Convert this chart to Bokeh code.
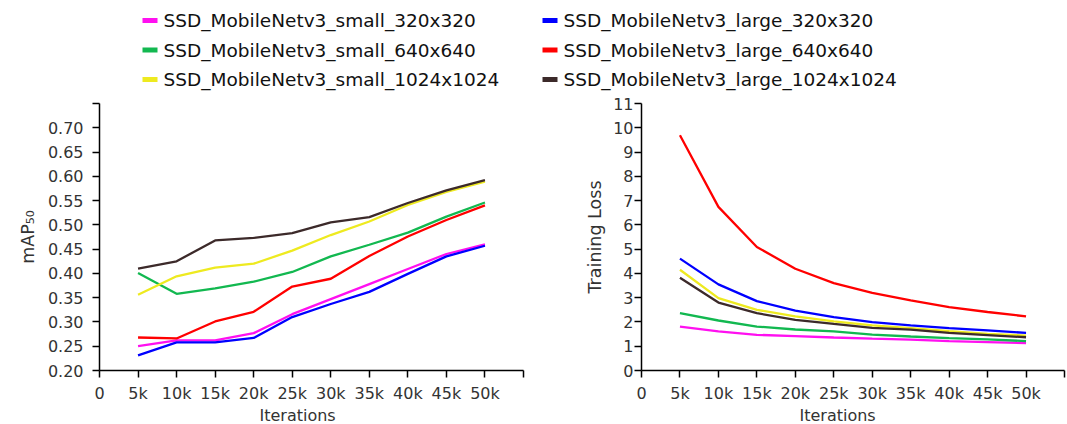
from bokeh.embed import file_html
from bokeh.layouts import column, row
from bokeh.models import ColumnDataSource, FixedTicker, Range1d, Title
from bokeh.plotting import figure
from bokeh.resources import INLINE

# ---- data -------------------------------------------------------------
iterations = [5000, 10000, 15000, 20000, 25000, 30000, 35000, 40000, 45000, 50000]

series_names = [
    "SSD_MobileNetv3_small_320x320",
    "SSD_MobileNetv3_small_640x640",
    "SSD_MobileNetv3_small_1024x1024",
    "SSD_MobileNetv3_large_320x320",
    "SSD_MobileNetv3_large_640x640",
    "SSD_MobileNetv3_large_1024x1024",
]
series_colors = ["#FF10F0", "#12B850", "#EEEA20", "#0000FF", "#FF0000", "#3C2A2A"]

# mAP@50 per checkpoint
map_small_320 = [0.250, 0.262, 0.262, 0.277, 0.316, 0.347, 0.378, 0.409, 0.440, 0.460]
map_small_640 = [0.401, 0.358, 0.369, 0.383, 0.403, 0.435, 0.459, 0.484, 0.517, 0.546]
map_small_1024 = [0.356, 0.394, 0.412, 0.420, 0.447, 0.479, 0.507, 0.541, 0.568, 0.589]
map_large_320 = [0.231, 0.258, 0.258, 0.267, 0.310, 0.337, 0.362, 0.399, 0.435, 0.457]
map_large_640 = [0.268, 0.266, 0.301, 0.321, 0.373, 0.389, 0.436, 0.476, 0.510, 0.540]
map_large_1024 = [0.410, 0.425, 0.468, 0.473, 0.483, 0.505, 0.516, 0.545, 0.571, 0.592]

# training loss per checkpoint
loss_small_320 = [1.81, 1.61, 1.47, 1.42, 1.36, 1.31, 1.27, 1.21, 1.17, 1.13]
loss_small_640 = [2.36, 2.06, 1.81, 1.69, 1.61, 1.48, 1.40, 1.33, 1.28, 1.21]
loss_small_1024 = [4.15, 2.98, 2.50, 2.23, 2.02, 1.86, 1.75, 1.62, 1.51, 1.44]
loss_large_320 = [4.61, 3.55, 2.86, 2.47, 2.20, 1.99, 1.86, 1.75, 1.65, 1.55]
loss_large_640 = [9.69, 6.74, 5.09, 4.19, 3.60, 3.20, 2.89, 2.61, 2.41, 2.23]
loss_large_1024 = [3.82, 2.80, 2.36, 2.09, 1.92, 1.76, 1.68, 1.55, 1.46, 1.37]

x_ticks = [0, 5000, 10000, 15000, 20000, 25000, 30000, 35000, 40000, 45000, 50000, 55000]
x_tick_labels = ["0", "5k", "10k", "15k", "20k", "25k", "30k", "35k", "40k", "45k", "50k", ""]
map_ticks = [0.20, 0.25, 0.30, 0.35, 0.40, 0.45, 0.50, 0.55, 0.60, 0.65, 0.70, 0.75]
loss_ticks = list(range(0, 12))

map_series = [map_small_320, map_small_640, map_small_1024,
              map_large_320, map_large_640, map_large_1024]
loss_series = [loss_small_320, loss_small_640, loss_small_1024,
               loss_large_320, loss_large_640, loss_large_1024]

FONT = "DejaVu Sans"
TEXT = "#333333"


def style_axes(p, y_standoff):
    for ax in (p.xaxis[0], p.yaxis[0]):
        ax.axis_line_color = "black"
        ax.axis_line_width = 1.5
        ax.major_tick_line_color = "black"
        ax.major_tick_line_width = 1.5
        ax.major_tick_out = 7
        ax.major_tick_in = 0
        ax.minor_tick_out = 0
        ax.minor_tick_in = 0
        ax.major_label_text_font = FONT
        ax.major_label_text_font_size = "16px"
        ax.major_label_text_color = TEXT
        ax.axis_label_text_font = FONT
        ax.axis_label_text_font_style = "normal"
        ax.axis_label_text_color = TEXT
    p.xaxis[0].ticker = FixedTicker(ticks=x_ticks)
    p.xaxis[0].major_label_overrides = {t: l for t, l in zip(x_ticks, x_tick_labels)}
    p.xaxis[0].major_label_standoff = 6
    p.yaxis[0].major_label_standoff = y_standoff
    p.grid.visible = False
    p.outline_line_color = None


def base_figure(y0, y1, left, frame_w, right):
    return figure(
        frame_width=frame_w, frame_height=267,
        min_border_left=left, min_border_right=right,
        min_border_top=8, min_border_bottom=54,
        x_range=Range1d(0, 55000), y_range=Range1d(y0, y1),
        output_backend="svg", toolbar_location=None,
        background_fill_color="white", border_fill_color="white",
    )


def x_title(p, offset):
    p.add_layout(Title(text="Iterations", align="left", offset=offset, standoff=-3,
                       text_font=FONT, text_font_size="16px",
                       text_font_style="normal", text_color=TEXT), "below")


# ---- left: mAP50 ------------------------------------------------------
p1 = base_figure(0.20, 0.75, 99, 424, 17)
for name, color, vals in zip(series_names, series_colors, map_series):
    src = ColumnDataSource(dict(x=iterations, y=vals))
    p1.line("x", "y", source=src, line_color=color, line_width=2.3)
style_axes(p1, 9)
p1.yaxis[0].ticker = FixedTicker(ticks=map_ticks)
p1.yaxis[0].major_label_overrides = {t: ("" if t == 0.75 else f"{t:.2f}") for t in map_ticks}
p1.yaxis[0].axis_label = "mAP\u2085\u2080"
p1.yaxis[0].axis_label_text_font_size = "17.5px"
p1.yaxis[0].axis_label_standoff = 7
x_title(p1, 160)

# ---- right: training loss ---------------------------------------------
p2 = base_figure(0, 11, 101, 423, 3)
for name, color, vals in zip(series_names, series_colors, loss_series):
    src = ColumnDataSource(dict(x=iterations, y=vals))
    p2.line("x", "y", source=src, line_color=color, line_width=2.3)
style_axes(p2, 1)
p2.yaxis[0].ticker = FixedTicker(ticks=loss_ticks)
p2.yaxis[0].axis_label = "Training Loss"
p2.yaxis[0].axis_label_text_font_size = "17.5px"
p2.yaxis[0].axis_label_standoff = 5
x_title(p2, 158)

# ---- legend strip across the top --------------------------------------
leg = figure(
    width=1067, height=95, x_range=Range1d(0, 1067), y_range=Range1d(95, 0),
    output_backend="svg", toolbar_location=None,
    min_border=0, outline_line_color=None,
)
leg.axis.visible = False
leg.grid.visible = False

col_swatch = [142, 542]
row_center = [20, 49.5, 79]
sw_x0, sw_x1, tx, ty = [], [], [], []
for i in range(len(series_names)):
    c, r = divmod(i, 3)
    sw_x0.append(col_swatch[c])
    sw_x1.append(col_swatch[c] + 15)
    tx.append(col_swatch[c] + 21)
    ty.append(row_center[r])
leg_src = ColumnDataSource(dict(x0=sw_x0, x1=sw_x1, tx=tx, y=ty,
                                name=series_names, color=series_colors))
leg.segment(x0="x0", y0="y", x1="x1", y1="y", source=leg_src,
            line_color="color", line_width=5)
leg.text(x="tx", y="y", text="name", source=leg_src, text_baseline="middle",
         text_font={"value": FONT}, text_font_size={"value": "18.5px"}, text_color="#111111")

layout = column(leg, row(p1, p2, spacing=0), spacing=0)

with open("out.html", "w") as f:
    f.write(file_html(layout, INLINE))
